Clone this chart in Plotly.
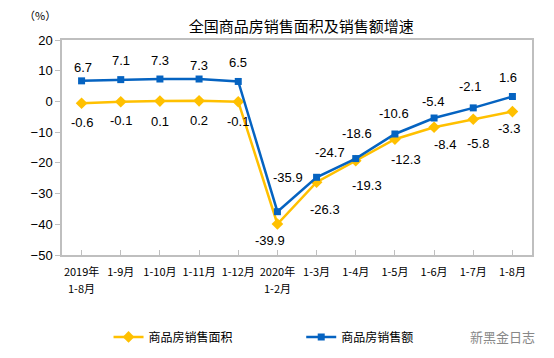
import plotly.graph_objects as go

categories = ["2019年", "1-9月", "1-10月", "1-11月", "1-12月", "2020年",
              "1-3月", "1-4月", "1-5月", "1-6月", "1-7月", "1-8月"]
category_second_line = ["1-8月", "", "", "", "", "1-2月", "", "", "", "", "", ""]
area_growth = [-0.6, -0.1, 0.1, 0.2, -0.1, -39.9, -26.3, -19.3, -12.3, -8.4, -5.8, -3.3]
sales_growth = [6.7, 7.1, 7.3, 7.3, 6.5, -35.9, -24.7, -18.6, -10.6, -5.4, -2.1, 1.6]

# label pixel offsets (style only)
area_off = [(0, -19), (0, -19), (0, -20), (0, -20), (0, -20), (-7, -17),
            (8, -27), (11, -25), (11, -20), (11, -17), (5, -24), (-3, -17)]
sales_off = [(1, 13), (0, 19), (0, 19), (0, 14), (0, 19), (11, 34),
             (13, 25), (1, 25), (-1, 20), (-1, 17), (-3, 21), (-4, 19)]

x = list(range(len(categories)))
yellow = "#FFC000"
blue = "#0563C1"
num_font = dict(family="Liberation Sans, Arial", size=13, color="#000000")
cjk = "Noto Sans CJK SC"

fig = go.Figure()
fig.add_trace(go.Scatter(
    x=x, y=area_growth, mode="lines+markers", name="商品房销售面积",
    line=dict(color=yellow, width=2.5),
    marker=dict(symbol="diamond", size=9, color=yellow), legend="legend"))
fig.add_trace(go.Scatter(
    x=x, y=sales_growth, mode="lines+markers", name="商品房销售额",
    line=dict(color=blue, width=2.5),
    marker=dict(symbol="square", size=7, color=blue), legend="legend2"))

for xi, v, (dx, dy) in zip(x, area_growth, area_off):
    fig.add_annotation(x=xi, y=v, text=f"{v}", showarrow=False, xshift=dx, yshift=dy,
                       font=num_font)
for xi, v, (dx, dy) in zip(x, sales_growth, sales_off):
    fig.add_annotation(x=xi, y=v, text=f"{v}", showarrow=False, xshift=dx, yshift=dy,
                       font=num_font)
for xi, t in zip(x, category_second_line):
    if t:
        fig.add_annotation(x=xi, xref="x", y=-0.153, yref="paper", text=t,
                           showarrow=False, yanchor="middle",
                           font=dict(family=cjk, size=11, color="#000"))

leg_common = dict(orientation="h", yanchor="middle", xanchor="left",
                  font=dict(family=cjk, size=12, color="#000"), itemwidth=30,
                  bgcolor="rgba(0,0,0,0)")

fig.update_layout(
    width=546, height=350,
    margin=dict(l=54, r=22, t=32, b=103, autoexpand=False),
    paper_bgcolor="white", plot_bgcolor="white",
    font=dict(family=cjk, size=12, color="#000"),
    title=dict(text="全国商品房销售面积及销售额增速", x=0.537, xanchor="center",
               y=0.946, yanchor="middle",
               font=dict(family=cjk, size=15, color="#000")),
    showlegend=True,
    legend=dict(x=0.099, y=-0.381, **leg_common),
    legend2=dict(x=0.509, y=-0.381, **leg_common),
    xaxis=dict(tickmode="array", tickvals=x, ticktext=categories,
               range=[-0.5, 11.5], showgrid=False, zeroline=False,
               showline=True, linecolor="#BFBFBF", linewidth=1.5, mirror=True,
               ticks="inside", ticklen=5, tickcolor="#BFBFBF", ticklabelstandoff=6,
               tickfont=dict(family=cjk, size=11, color="#000")),
    yaxis=dict(range=[-50, 20], dtick=10, showgrid=False, zeroline=False,
               showline=True, linecolor="#BFBFBF", linewidth=1.5, mirror=True,
               ticks="outside", ticklen=5, tickcolor="#BFBFBF",
               tickfont=dict(family="Liberation Sans, Arial", size=13, color="#000")),
)
fig.update_xaxes(tickson="boundaries")

fig.add_annotation(text="（%）", xref="paper", yref="paper", x=-0.047, y=1.116,
                   showarrow=False, xanchor="center", yanchor="middle",
                   font=dict(family=cjk, size=11, color="#000"))
fig.add_annotation(text="新黑金日志", xref="paper", yref="paper", x=1.01, y=-0.381,
                   showarrow=False, xanchor="right", yanchor="middle",
                   font=dict(family=cjk, size=13, color="#888888"))

fig.write_html("out.html")
